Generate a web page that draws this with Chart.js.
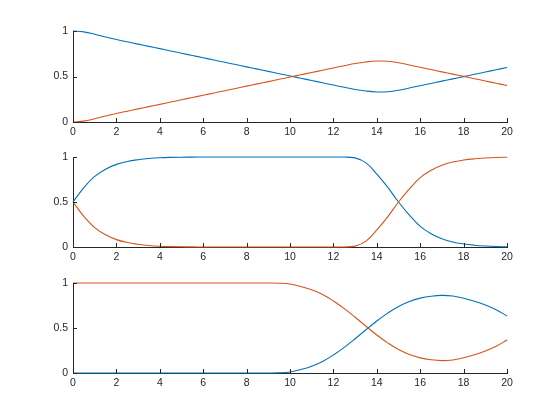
<!DOCTYPE html>
<html>
<head>
<meta charset="utf-8">
<script src="https://cdn.jsdelivr.net/npm/chart.js@4"></script>
<style>
  html, body { margin: 0; padding: 0; background: #fff; }
  #fig { position: relative; width: 560px; height: 420px; background: #fff; }
  #fig canvas { position: absolute; left: 0; }
</style>
</head>
<body>
<div id="fig">
  <canvas id="ax1" width="560" height="140" style="top:0"></canvas>
  <canvas id="ax2" width="560" height="125" style="top:140px"></canvas>
  <canvas id="ax3" width="560" height="126" style="top:265px"></canvas>
</div>
<script>
// x samples shared by the three subplots
const X = [0, 0.5, 1, 1.5, 2, 2.5, 3, 3.5, 4, 4.5, 5, 5.5, 6, 6.5, 7, 7.5, 8, 8.5, 9, 9.5,
           10, 10.5, 11, 11.5, 12, 12.5, 13, 13.5, 14, 14.5, 15, 15.5, 16, 16.5, 17, 17.5, 18, 18.5, 19, 19.5, 20];

// ── subplot 1 ──
const TOP_BLUE = [1.000, 0.990, 0.965, 0.935, 0.907, 0.881, 0.856, 0.831, 0.806, 0.781,
                  0.756, 0.731, 0.706, 0.681, 0.656, 0.631, 0.606, 0.581, 0.556, 0.531,
                  0.506, 0.481, 0.456, 0.431, 0.406, 0.381, 0.357, 0.340, 0.330, 0.332,
                  0.348, 0.374, 0.399, 0.424, 0.449, 0.474, 0.499, 0.524, 0.549, 0.574, 0.599];
const TOP_ORANGE = [0.000, 0.010, 0.035, 0.065, 0.093, 0.119, 0.144, 0.169, 0.194, 0.219,
                    0.244, 0.269, 0.294, 0.319, 0.344, 0.369, 0.394, 0.419, 0.444, 0.469,
                    0.494, 0.519, 0.544, 0.569, 0.594, 0.619, 0.643, 0.660, 0.670, 0.668,
                    0.652, 0.626, 0.601, 0.576, 0.551, 0.526, 0.501, 0.476, 0.451, 0.426, 0.401];

// ── subplot 2 ──
const MID_BLUE = [0.500, 0.660, 0.785, 0.865, 0.918, 0.950, 0.970, 0.984, 0.992, 0.996,
                  0.998, 0.999, 1.000, 1.000, 1.000, 1.000, 1.000, 1.000, 1.000, 1.000,
                  1.000, 1.000, 1.000, 1.000, 1.000, 1.000, 0.990, 0.935, 0.810, 0.665,
                  0.500, 0.355, 0.230, 0.148, 0.092, 0.056, 0.034, 0.020, 0.011, 0.005, 0.002];
const MID_ORANGE = [0.500, 0.340, 0.215, 0.135, 0.082, 0.050, 0.030, 0.016, 0.008, 0.004,
                    0.002, 0.001, 0.000, 0.000, 0.000, 0.000, 0.000, 0.000, 0.000, 0.000,
                    0.000, 0.000, 0.000, 0.000, 0.000, 0.000, 0.010, 0.065, 0.190, 0.335,
                    0.500, 0.645, 0.770, 0.852, 0.908, 0.944, 0.966, 0.980, 0.989, 0.995, 0.998];

// ── subplot 3 ──
const BOT_BLUE = [0, 0, 0, 0, 0, 0, 0, 0, 0, 0,
                  0, 0, 0, 0, 0, 0, 0, 0, 0, 0.002,
                  0.012, 0.038, 0.075, 0.128, 0.200, 0.285, 0.380, 0.480, 0.578, 0.665,
                  0.740, 0.795, 0.832, 0.853, 0.862, 0.855, 0.830, 0.797, 0.755, 0.703, 0.634];
const BOT_ORANGE = [1, 1, 1, 1, 1, 1, 1, 1, 1, 1,
                    1, 1, 1, 1, 1, 1, 1, 1, 1, 0.998,
                    0.988, 0.962, 0.925, 0.872, 0.800, 0.715, 0.620, 0.520, 0.422, 0.335,
                    0.260, 0.205, 0.168, 0.147, 0.138, 0.145, 0.170, 0.203, 0.245, 0.297, 0.366];

const X_TICKS = { min: 0, max: 20, step: 2 };
const Y_TICKS = { min: 0, max: 1, step: 0.5 };

const BLUE   = '#0072BD';
const ORANGE = '#D95319';
const AXIS   = '#262626';

Chart.defaults.font.family = '"Liberation Sans", Arial, Helvetica, sans-serif';
Chart.defaults.font.size = 10.5;
Chart.defaults.color = AXIS;

// MATLAB-style ticks pointing into the axes
const inwardTicks = {
  id: 'inwardTicks',
  afterDatasetsDraw(chart) {
    const { ctx, chartArea: a, scales: { x, y } } = chart;
    ctx.save();
    ctx.strokeStyle = AXIS;
    ctx.lineWidth = 1;
    ctx.beginPath();
    x.ticks.forEach(t => {
      const px = Math.round(x.getPixelForValue(t.value)) + 0.5;
      ctx.moveTo(px, a.bottom);
      ctx.lineTo(px, a.bottom - 4);
    });
    y.ticks.forEach(t => {
      const py = Math.round(y.getPixelForValue(t.value)) + 0.5;
      ctx.moveTo(a.left, py);
      ctx.lineTo(a.left + 4, py);
    });
    ctx.stroke();
    ctx.restore();
  },
};

const pts = ys => X.map((x, i) => ({ x, y: ys[i] }));

function line(ys, color) {
  return {
    data: pts(ys), borderColor: color, borderWidth: 1.1,
    pointRadius: 0, tension: 0.4, clip: 3, fill: false,
  };
}

function subplot(id, padTop, blue, orange) {
  return new Chart(document.getElementById(id), {
    type: 'line',
    data: { datasets: [line(orange, ORANGE), line(blue, BLUE)] },
    options: {
      responsive: false, animation: false, events: [],
      layout: { padding: { left: 33, right: 53, top: padTop, bottom: 0 } },
      plugins: { legend: { display: false }, tooltip: { enabled: false } },
      scales: {
        x: {
          type: 'linear', min: X_TICKS.min, max: X_TICKS.max,
          ticks: { stepSize: X_TICKS.step, padding: 4, maxRotation: 0 },
          grid: { display: false, drawTicks: false },
          border: { display: true, color: AXIS, width: 1 },
          afterFit: s => { s.height = 18; },
        },
        y: {
          min: Y_TICKS.min, max: Y_TICKS.max,
          ticks: { stepSize: Y_TICKS.step, padding: 5, callback: v => String(+v.toFixed(2)) },
          grid: { display: false, drawTicks: false },
          border: { display: true, color: AXIS, width: 1 },
          afterFit: s => { s.width = 40; },
        },
      },
    },
    plugins: [inwardTicks],
  });
}

subplot('ax1', 31, TOP_BLUE, TOP_ORANGE);
subplot('ax2', 17, MID_BLUE, MID_ORANGE);
subplot('ax3', 18, BOT_BLUE, BOT_ORANGE);
</script>
</body>
</html>
